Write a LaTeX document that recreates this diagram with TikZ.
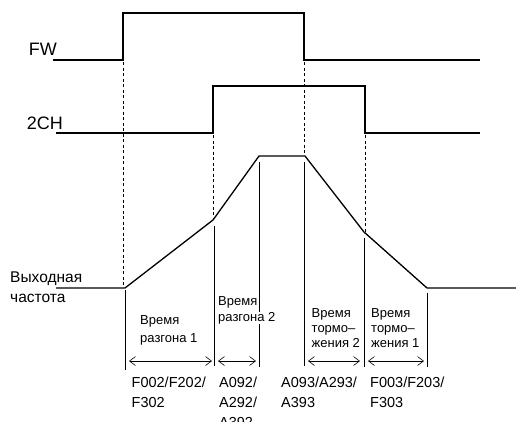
\documentclass[tikz,border=0pt]{standalone}
\usepackage{fontspec}
\setmainfont{Liberation Sans}
\usetikzlibrary{arrows.meta,positioning}

\begin{document}
\begin{tikzpicture}[
    x=1pt, y=-1pt,
    signal/.style={line width=1.3pt},
    guide/.style={line width=0.5pt, dash pattern=on 3pt off 2.5pt},
    marker/.style={line width=0.6pt},
    span/.style={line width=0.6pt, {Straight Barb[length=6pt,width=9pt]}-{Straight Barb[length=6pt,width=9pt]}},
    siglabel/.style={font=\fontsize{18}{20}\selectfont, anchor=base east, inner sep=0pt},
    axislabel/.style={font=\fontsize{15.5}{20}\selectfont, align=left, anchor=north west, inner sep=0pt},
    note/.style={font=\fontsize{13}{16}\selectfont, align=left, anchor=north west, inner sep=0pt},
    param/.style={font=\fontsize{14.5}{20}\selectfont, align=left, anchor=north west, inner sep=0pt}
]
\useasboundingbox (0,0) rectangle (516,421);
% input signals
\draw[signal] (53,60) -- (123,60) -- (123,13) -- (304,13) -- (304,60) -- (480,60);
\draw[signal] (56,133) -- (213,133) -- (213,86) -- (365,86) -- (365,133) -- (480,133);
\node[siglabel] (fw) at (57,55) {FW};
\node[siglabel] (ch) at (63,129) {2CH};
% output frequency
\coordinate (f0) at (56,288);
\coordinate (f1) at (125,288);
\coordinate (f2) at (213,220);
\coordinate (f3) at (259,156);
\coordinate (f4) at (305,156);
\coordinate (f5) at (364,232);
\coordinate (f6) at (427,288);
\coordinate (f7) at (516,288);
\draw[signal] (f0) -- (f1) -- (f2) -- (f3) -- (f4) -- (f5) -- (f6) -- (f7);
\node[axislabel] (out) at (10,272) {Выходная\\частота};
% dashed guides
\draw[guide] (123.5,62) -- (123.5,286);
\draw[guide] (213,135) -- (213,219);
\draw[guide] (304,62) -- (304,155);
\draw[guide] (365,135) -- (365,232);
% time markers and spans
\foreach \x/\a/\b in {125/290/370, 214/226/366, 259/162/367, 304/162/366, 364/238/367, 427/293/367}
  \draw[marker] (\x,\a) -- (\x,\b);
\foreach \a/\b in {129/212, 218/256, 308/360, 368/424}
  \draw[span] (\a,361) -- (\b,361);
\node[note] (acc1) at (140,315) {Время\\[2pt]разгона 1};
\node[note] (acc2t) at (218,296) {Время};
\node[note, fill=white] (acc2b) at (218,312) {разгона 2};
\node[note, font=\fontsize{13}{15}\selectfont] (dec2) at (311.5,308) {Время\\тормо–\\жения 2};
\node[note, font=\fontsize{13}{15}\selectfont] (dec1) at (371,308) {Время\\тормо–\\жения 1};
% parameter codes
\node[param] (p1) at (131.5,377) {F002/F202/\\F302};
\node[param] (p2) at (219,377) {A092/\\A292/\\A392};
\node[param] (p3) at (281,377) {A093/A293/\\A393};
\node[param] (p4) at (370,377) {F003/F203/\\F303};
\end{tikzpicture}
\end{document}
